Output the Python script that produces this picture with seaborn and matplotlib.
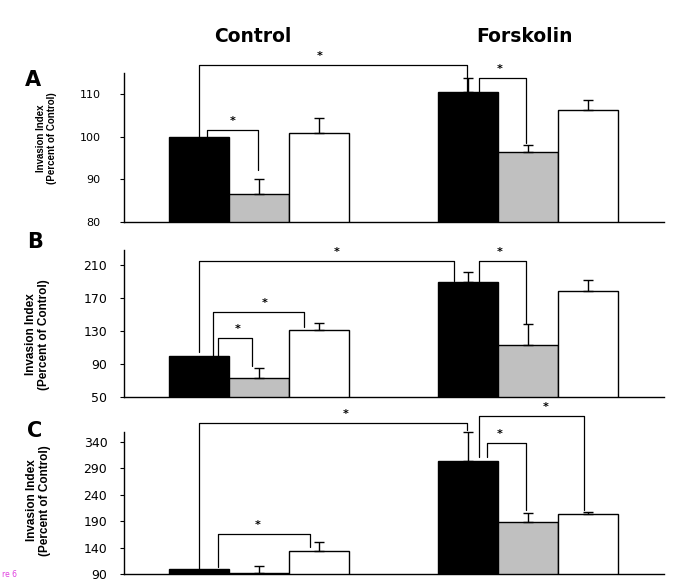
import matplotlib
matplotlib.use("Agg")
import matplotlib.pyplot as plt
import seaborn as sns
import pandas as pd
import numpy as np

# ---------------- data ----------------
groups = ["Control", "Forskolin"]
treatments = ["T1", "T2", "T3"]

# panel A
a_control = [100, 86.5, 101]
a_forsk = [110.6, 96.5, 106.4]
a_control_err = [0, 3.5, 3.5]
a_forsk_err = [3.3, 1.5, 2.3]

# panel B
b_control = [100, 73, 131]
b_forsk = [189, 113, 178]
b_control_err = [0, 12, 8]
b_forsk_err = [12, 25, 14]

# panel C
c_control = [100, 92, 134]
c_forsk = [304, 188, 204]
c_control_err = [0, 13, 16]
c_forsk_err = [55, 17, 3]

a_ticks = [80, 90, 100, 110]
b_ticks = [50, 90, 130, 170, 210]
c_ticks = [90, 140, 190, 240, 290, 340]

# significance brackets: (x_left, x_right, y_left_end, y_top, y_right_end, star_x)
a_brackets = [(-0.223, 0.773, 100, 116.9, 110.6, 0.227),
              (-0.193, -0.004, 100, 101.6, 92.2, -0.100),
              (0.818, 0.993, 110.6, 113.9, 98.6, 0.896)]
b_brackets = [(-0.223, 0.725, 104.5, 214.8, 190.6, 0.290),
              (-0.171, 0.167, 100, 153, 134.8, 0.022),
              (-0.152, -0.026, 100, 121.5, 88, -0.078),
              (0.818, 0.993, 189, 214.8, 138.5, 0.896)]
c_brackets = [(-0.223, 0.773, 100, 376, 362.7, 0.320),
              (0.818, 1.208, 311, 389, 211, 1.067),
              (0.848, 0.993, 311, 338, 211, 0.896),
              (-0.152, 0.190, 103, 165.8, 141, -0.004)]

# ---------------- style ----------------
sns.set_theme(style="ticks")
plt.rcParams["font.family"] = ["DejaVu Sans"]
plt.rcParams["text.color"] = "black"
plt.rcParams["axes.labelcolor"] = "black"
plt.rcParams["xtick.color"] = "black"
plt.rcParams["ytick.color"] = "black"

W, H = 685, 586
fig = plt.figure(figsize=(W / 100, H / 100), dpi=100)

palette = ["black", "#c0c0c0", "white"]

panels = [
    dict(ctrl=a_control, fk=a_forsk, ce=a_control_err, fe=a_forsk_err,
         ticks=a_ticks, ylim=(80, 115), rect=(124, 73, 222), br=a_brackets,
         letter="A", lab_fs=7, lab_xy=(-0.124, 0.56), tick_fs=8, pad=14),
    dict(ctrl=b_control, fk=b_forsk, ce=b_control_err, fe=b_forsk_err,
         ticks=b_ticks, ylim=(50, 228), rect=(124, 250, 397), br=b_brackets,
         letter="B", lab_fs=8.5, lab_xy=(-0.137, 0.425), tick_fs=9, pad=9),
    dict(ctrl=c_control, fk=c_forsk, ce=c_control_err, fe=c_forsk_err,
         ticks=c_ticks, ylim=(90, 359), rect=(124, 432, 574), br=c_brackets,
         letter="C", lab_fs=8.5, lab_xy=(-0.135, 0.52), tick_fs=9, pad=9),
]

for p in panels:
    x0, ytop, ybot = p["rect"]
    ax = fig.add_axes([x0 / W, 1 - ybot / H, 540 / W, (ybot - ytop) / H])
    df = pd.DataFrame({
        "group": [g for g in groups for _ in treatments],
        "treatment": treatments * 2,
        "value": list(p["ctrl"]) + list(p["fk"]),
    })
    sns.barplot(data=df, x="group", y="value", hue="treatment",
                hue_order=treatments, order=groups, palette=palette,
                edgecolor="black", linewidth=1.0, width=0.67, gap=0,
                errorbar=None, legend=False, ax=ax, saturation=1)
    # error bars (upper only)
    errs = list(p["ce"]) + list(p["fe"])
    vals = list(p["ctrl"]) + list(p["fk"])
    bars = sorted([b for b in ax.patches], key=lambda b: b.get_x())
    for b, v, e in zip(bars, vals, errs):
        if e > 0:
            ax.errorbar(b.get_x() + b.get_width() / 2, v, yerr=[[0], [e]],
                        fmt="none", ecolor="black", elinewidth=1.0,
                        capsize=3.6, capthick=1.0, zorder=1, clip_on=False)
    # brackets
    for xl, xr, yl, yt, yr, sx in p["br"]:
        ax.plot([xl, xl, xr, xr], [yl, yt, yt, yr], color="black", lw=0.9,
                clip_on=False, zorder=3)
        ax.annotate("*", xy=(sx, yt), xytext=(0, 6.5), textcoords="offset points",
                    ha="center", va="center", fontsize=8, fontweight="bold",
                    color="black", annotation_clip=False)

    ax.set_xlim(-0.502, 1.505)
    ax.set_ylim(*p["ylim"])
    ax.set_yticks(p["ticks"])
    ax.set_yticklabels([str(t) for t in p["ticks"]], fontsize=p["tick_fs"], color="black")
    ax.tick_params(axis="y", length=3, width=0.8, pad=p["pad"], colors="black")
    ax.tick_params(axis="x", length=0)
    ax.set_xticklabels([])
    ax.set_xlabel("")
    ax.set_ylabel("Invasion Index\n(Percent of Control)", fontsize=p["lab_fs"],
                  fontweight="bold", family="Liberation Sans", linespacing=1.1,
                  color="black")
    ax.yaxis.set_label_coords(*p["lab_xy"])
    for s in ["top", "right"]:
        ax.spines[s].set_visible(False)
    for s in ["left", "bottom"]:
        ax.spines[s].set_color("black")
        ax.spines[s].set_linewidth(1.0)
    ax.set_facecolor("white")

# panel letters
fig.text(25 / W, 1 - 86 / H, "A", fontsize=15, fontweight="bold", ha="left", va="baseline", color="black")
fig.text(27 / W, 1 - 248 / H, "B", fontsize=15, fontweight="bold", ha="left", va="baseline", color="black")
fig.text(27 / W, 1 - 437 / H, "C", fontsize=15, fontweight="bold", ha="left", va="baseline", color="black")

# column headers
fig.text(253 / W, 1 - 42 / H, "Control", fontsize=13.5, fontweight="bold", ha="center", va="baseline", color="black")
fig.text(524 / W, 1 - 42 / H, "Forskolin", fontsize=13.5, fontweight="bold", ha="center", va="baseline", color="black")

# cut-off figure label
fig.text(2 / W, 1 - 577 / H, "re 6", fontsize=5.5, color="#e040e0", ha="left", va="baseline")

fig.savefig("out.png", dpi=100, facecolor="white")
